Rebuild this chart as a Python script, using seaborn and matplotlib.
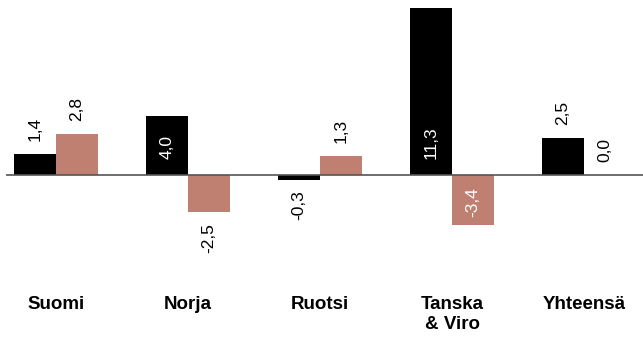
import pandas as pd
import matplotlib
matplotlib.use('Agg')
import matplotlib.pyplot as plt
import matplotlib.transforms as mtransforms
import seaborn as sns

# data
maat = ['Suomi', 'Norja', 'Ruotsi', 'Tanska\n& Viro', 'Yhteensä']
sarja_a = [1.4, 4.0, -0.3, 11.3, 2.5]
sarja_b = [2.8, -2.5, 1.3, -3.4, 0.0]
varit = ['#000000', '#bf8072']

df = pd.DataFrame({
    'maa': maat * 2,
    'arvo': sarja_a + sarja_b,
    'sarja': ['a'] * len(maat) + ['b'] * len(maat),
})

sns.set_style('white')
plt.rcParams['font.family'] = ['Liberation Sans', 'DejaVu Sans']

fig = plt.figure(figsize=(6.43, 3.38), dpi=100)
ax = fig.add_axes([6 / 643, 0, 637 / 643, 1])

sns.barplot(data=df, x='maa', y='arvo', hue='sarja', palette=varit,
            width=0.636, legend=False, ax=ax, saturation=1, linewidth=0)

ax.set_xlim(-0.379, 4.447)
ax.set_ylim(-11.0, 11.82)
ax.axhline(0, color='#555555', lw=1.2, zorder=3)
for s in ax.spines.values():
    s.set_visible(False)
ax.set_xticks([])
ax.set_yticks([])
ax.set_xlabel('')
ax.set_ylabel('')

# value labels: inside near the base for big bars, outside for small ones
for cont in ax.containers:
    for bar, v in zip(cont, cont.datavalues):
        x = bar.get_x() + bar.get_width() / 2
        txt = f'{v:.1f}'.replace('.', ',')
        if abs(v) >= 3:
            off = 16 if v > 0 else -12
            ax.annotate(txt, (x, 0), xytext=(0, off * 0.72), textcoords='offset points',
                        rotation=90, ha='center', va='bottom' if v > 0 else 'top',
                        color='white', fontsize=12.5)
        else:
            off = 13 if v >= 0 else -11
            ax.annotate(txt, (x, v), xytext=(0, off * 0.72), textcoords='offset points',
                        rotation=90, ha='center', va='bottom' if v >= 0 else 'top',
                        color='black', fontsize=12.5)

# category labels
trans = mtransforms.blended_transform_factory(ax.transData, ax.transAxes)
for i, m in enumerate(maat):
    ax.text(i, 1 - 296 / 338, m, transform=trans, ha='center', va='top',
            fontsize=13.5, fontweight='bold', linespacing=1.25, color='black')

plt.savefig('out.png', dpi=100)
plt.close()
